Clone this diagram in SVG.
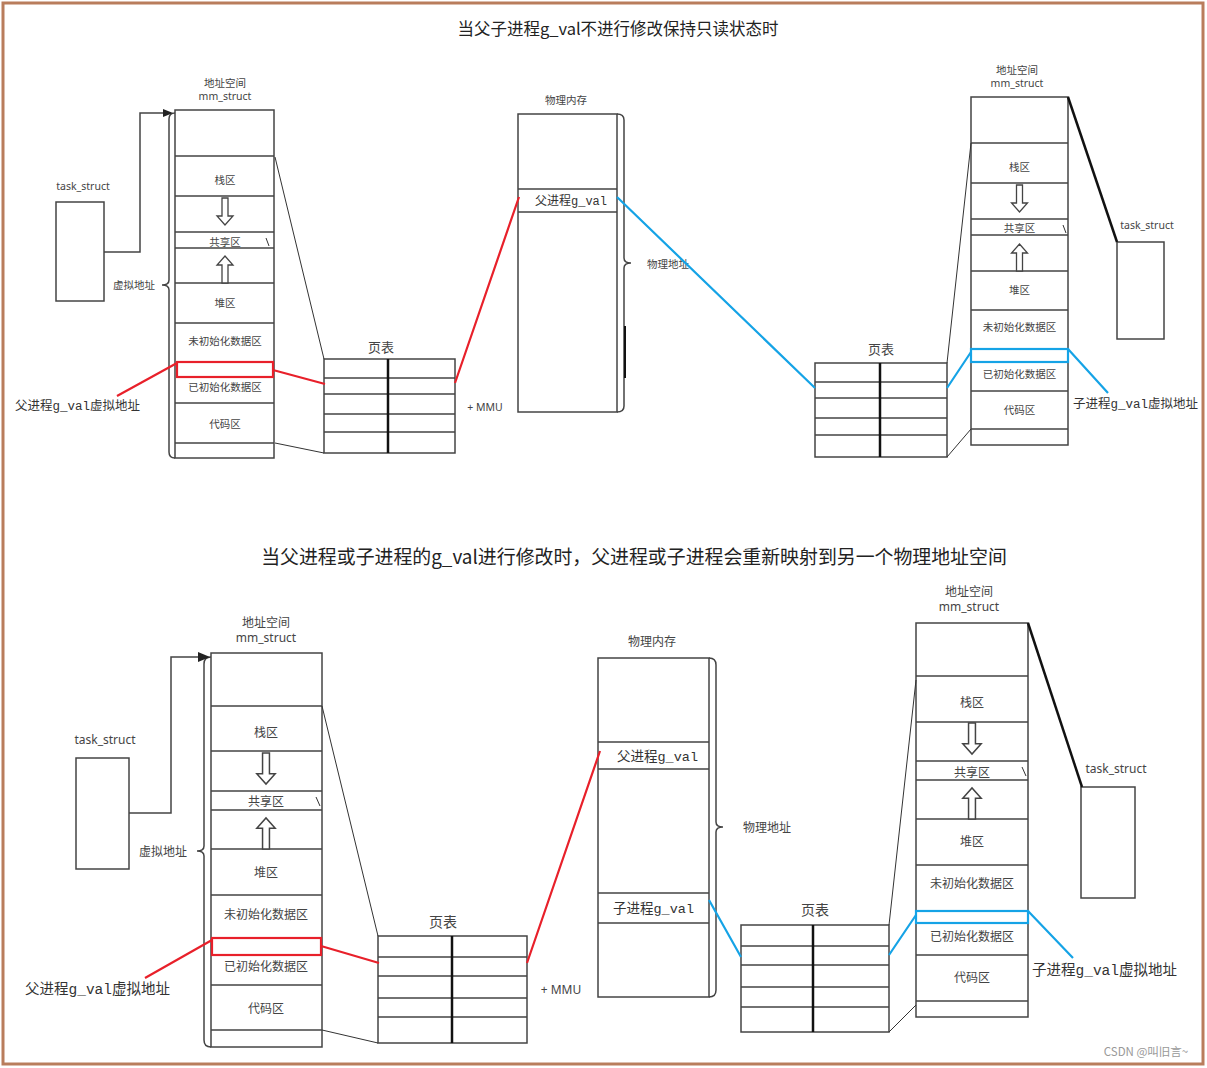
<svg xmlns="http://www.w3.org/2000/svg" width="1207" height="1068" viewBox="0 0 1207 1068">
<style>
.bg{fill:#fff}
.frame{fill:none;stroke:#b97d5c;stroke-width:3}
.box{fill:#fff;stroke:#444;stroke-width:1.5}
.row{stroke:#444;stroke-width:1.5;fill:none}
.mid{stroke:#111;stroke-width:2.5}
.thin{stroke:#333;stroke-width:1;fill:none}
.thick{stroke:#111;stroke-width:2.5;fill:none}
.red{stroke:#e8202a;stroke-width:2.2;fill:none}
.blue{stroke:#15a3e6;stroke-width:2.2;fill:none}
.brace{stroke:#444;stroke-width:1.5;fill:none}
.arr{fill:#fff;stroke:#444;stroke-width:1.3}
.t{font-family:"Noto Sans CJK SC","Noto Sans",sans-serif;fill:#444;text-anchor:middle}
.ts{font-family:"Noto Sans","Noto Sans CJK SC",sans-serif;fill:#444;text-anchor:middle}
.title{font-family:"Noto Sans CJK SC","Noto Sans",sans-serif;fill:#222;text-anchor:middle}
.m{font-family:"Liberation Mono","Noto Sans CJK SC",monospace;fill:#333}
</style>
<defs>
<path id="dn" d="M-3,0 H3 V18 H8 L0,27 L-8,18 H-3 Z"/>
<path id="up" d="M-3,0 H3 V-18 H8 L0,-27 L-8,-18 H-3 Z"/>
</defs>
<rect class="bg" x="0" y="0" width="1207" height="1068"/>
<rect class="frame" x="3" y="3" width="1200" height="1061"/>

<text class="title" x="618" y="35" font-size="16.5">当父子进程g_val不进行修改保持只读状态时</text>
<text class="title" x="634" y="564" font-size="18.9">当父进程或子进程的g_val进行修改时，父进程或子进程会重新映射到另一个物理地址空间</text>

<!-- ===== Diagram 1 ===== -->
<g id="task1">
<text class="ts" x="83" y="190" font-size="10.5">task_struct</text>
<rect class="box" x="56" y="202" width="48" height="99"/>
</g>
<g id="vm1">
<text class="t" x="225" y="87" font-size="10.5">地址空间</text>
<text class="ts" x="225" y="100" font-size="10.5">mm_struct</text>
<rect class="box" x="175" y="110" width="99" height="348"/>
<path class="row" d="M175,156 H274 M175,196 H274 M175,232 H274 M175,248 H274 M175,283 H274 M175,323 H274 M175,403 H274 M175,443 H274"/>
<path class="thin" d="M266,238 L269,246"/>
<use href="#dn" class="arr" x="225" y="198"/>
<use href="#up" class="arr" x="225" y="283"/>
<text class="t" x="225" y="184" font-size="10.5">栈区</text>
<text class="t" x="225" y="246" font-size="10.5">共享区</text>
<text class="t" x="225" y="307" font-size="10.5">堆区</text>
<text class="t" x="225" y="345" font-size="10.5">未初始化数据区</text>
<text class="t" x="225" y="391" font-size="10.5">已初始化数据区</text>
<text class="t" x="225" y="428" font-size="10.5">代码区</text>
<rect x="177" y="362" width="96" height="15" fill="none" stroke="#e8202a" stroke-width="2.2"/>
<path class="brace" d="M175,113 Q169,113 169,119 L169,280 Q169,285 162,285 Q169,285 169,290 L169,452 Q169,458 175,458"/>
<text class="t" x="134" y="289" font-size="10.5">虚拟地址</text>
</g>
<g id="pt1">
<text class="t" x="381" y="352" font-size="13">页表</text>
<rect class="box" x="324" y="359" width="131" height="94"/>
<path class="row" d="M324,378 H455 M324,394 H455 M324,414 H455 M324,432 H455"/>
<path class="mid" d="M388,359 V453"/>
<text class="ts" x="485" y="411" font-size="10.5">+ MMU</text>
</g>
<g id="pm1">
<text class="t" x="566" y="104" font-size="10.5">物理内存</text>
<rect class="box" x="518" y="114" width="99" height="298"/>
<path class="row" d="M518,189 H617 M518,212 H617"/>
<text class="m" x="535" y="205" font-size="12">父进程g_val</text>
<path class="brace" d="M617,114 Q624,114 624,120 L624,258 Q624,263 631,263 Q624,263 624,268 L624,406 Q624,412 617,412"/>
<path d="M625,326 V378" stroke="#111" stroke-width="2"/>
<text class="t" x="668" y="268" font-size="10.5">物理地址</text>
</g>
<g id="pt2">
<text class="t" x="881" y="354" font-size="13">页表</text>
<rect class="box" x="815" y="363" width="132" height="94"/>
<path class="row" d="M815,382 H947 M815,398 H947 M815,418 H947 M815,435 H947"/>
<path class="mid" d="M880,363 V457"/>
</g>
<g id="vm2">
<text class="t" x="1017" y="74" font-size="10.5">地址空间</text>
<text class="ts" x="1017" y="87" font-size="10.5">mm_struct</text>
<rect class="box" x="971" y="97" width="97" height="348"/>
<path class="row" d="M971,143 H1068 M971,183 H1068 M971,219 H1068 M971,235 H1068 M971,271 H1068 M971,310 H1068 M971,391 H1068 M971,429 H1068"/>
<path class="thin" d="M1063,225 L1066,233"/>
<use href="#dn" class="arr" x="1019.5" y="185"/>
<use href="#up" class="arr" x="1019.5" y="271"/>
<text class="t" x="1019.5" y="171" font-size="10.5">栈区</text>
<text class="t" x="1019.5" y="232" font-size="10.5">共享区</text>
<text class="t" x="1019.5" y="294" font-size="10.5">堆区</text>
<text class="t" x="1019.5" y="331" font-size="10.5">未初始化数据区</text>
<text class="t" x="1019.5" y="378" font-size="10.5">已初始化数据区</text>
<text class="t" x="1019.5" y="414" font-size="10.5">代码区</text>
<rect x="971" y="349" width="97" height="13" fill="none" stroke="#15a3e6" stroke-width="2.2"/>
</g>
<g id="task2">
<text class="ts" x="1147" y="229" font-size="10.5">task_struct</text>
<rect class="box" x="1117" y="242" width="47" height="97"/>
</g>
<text class="m" x="15" y="410" font-size="12.5">父进程g_val虚拟地址</text>
<text class="m" x="1073" y="408" font-size="12.5">子进程g_val虚拟地址</text>

<!-- ===== Diagram 2 ===== -->
<g id="task3">
<text class="ts" x="105" y="744" font-size="12">task_struct</text>
<rect class="box" x="76" y="758" width="53" height="111"/>
</g>
<g id="vm3">
<text class="t" x="266" y="627" font-size="12">地址空间</text>
<text class="ts" x="266" y="642" font-size="12">mm_struct</text>
<rect class="box" x="211" y="653" width="111" height="394"/>
<path class="row" d="M211,706 H322 M211,751 H322 M211,791 H322 M211,810 H322 M211,849 H322 M211,895 H322 M211,985 H322 M211,1030 H322"/>
<path class="thin" d="M316,797 L320,806"/>
<use href="#dn" class="arr" x="266" y="753" transform="translate(266 753) scale(1.15) translate(-266 -753)"/>
<use href="#up" class="arr" x="266" y="849" transform="translate(266 849) scale(1.15) translate(-266 -849)"/>
<text class="t" x="266" y="737" font-size="12">栈区</text>
<text class="t" x="266" y="806" font-size="12">共享区</text>
<text class="t" x="266" y="877" font-size="12">堆区</text>
<text class="t" x="266" y="919" font-size="12">未初始化数据区</text>
<text class="t" x="266" y="971" font-size="12">已初始化数据区</text>
<text class="t" x="266" y="1013" font-size="12">代码区</text>
<rect x="212" y="938" width="109" height="17" fill="none" stroke="#e8202a" stroke-width="2.2"/>
<path class="brace" d="M211,657 Q204,657 204,664 L204,846 Q204,851 197,851 Q204,851 204,856 L204,1040 Q204,1047 211,1047"/>
<text class="t" x="163" y="856" font-size="12">虚拟地址</text>
</g>
<g id="pt3">
<text class="t" x="443" y="927" font-size="14">页表</text>
<rect class="box" x="378" y="936" width="149" height="107"/>
<path class="row" d="M378,957 H527 M378,976 H527 M378,998 H527 M378,1017 H527"/>
<path class="mid" d="M452,936 V1043"/>
<text class="ts" x="561" y="994" font-size="12">+ MMU</text>
</g>
<g id="pm2">
<text class="t" x="652" y="646" font-size="12">物理内存</text>
<rect class="box" x="598" y="658" width="111" height="339"/>
<path class="row" d="M598,742 H709 M598,769 H709 M598,893 H709 M598,923 H709"/>
<text class="m" x="617" y="761" font-size="13.5">父进程g_val</text>
<text class="m" x="613" y="913" font-size="13.5">子进程g_val</text>
<path class="brace" d="M709,658 Q716,658 716,665 L716,822 Q716,827 723,827 Q716,827 716,832 L716,990 Q716,997 709,997"/>
<text class="t" x="767" y="832" font-size="12">物理地址</text>
</g>
<g id="pt4">
<text class="t" x="815" y="915" font-size="14">页表</text>
<rect class="box" x="741" y="925" width="148" height="107"/>
<path class="row" d="M741,946 H889 M741,965 H889 M741,987 H889 M741,1007 H889"/>
<path class="mid" d="M813,925 V1032"/>
</g>
<g id="vm4">
<text class="t" x="969" y="596" font-size="12">地址空间</text>
<text class="ts" x="969" y="611" font-size="12">mm_struct</text>
<rect class="box" x="916" y="623" width="112" height="394"/>
<path class="row" d="M916,676 H1028 M916,722 H1028 M916,761 H1028 M916,780 H1028 M916,819 H1028 M916,865 H1028 M916,955 H1028 M916,1001 H1028"/>
<path class="thin" d="M1022,767 L1026,776"/>
<use href="#dn" class="arr" x="972" y="723" transform="translate(972 723) scale(1.15) translate(-972 -723)"/>
<use href="#up" class="arr" x="972" y="819" transform="translate(972 819) scale(1.15) translate(-972 -819)"/>
<text class="t" x="972" y="707" font-size="12">栈区</text>
<text class="t" x="972" y="777" font-size="12">共享区</text>
<text class="t" x="972" y="846" font-size="12">堆区</text>
<text class="t" x="972" y="888" font-size="12">未初始化数据区</text>
<text class="t" x="972" y="941" font-size="12">已初始化数据区</text>
<text class="t" x="972" y="982" font-size="12">代码区</text>
<rect x="916" y="911" width="112" height="12" fill="none" stroke="#15a3e6" stroke-width="2.2"/>
</g>
<g id="task4">
<text class="ts" x="1116" y="773" font-size="12">task_struct</text>
<rect class="box" x="1081" y="787" width="54" height="111"/>
</g>
<text class="m" x="25" y="994" font-size="14.5">父进程g_val虚拟地址</text>
<text class="m" x="1032" y="975" font-size="14.5">子进程g_val虚拟地址</text>

<!-- ===== Connectors ===== -->
<g id="connectors">
<path class="row" d="M104,252 H140 V113 H166"/>
<path d="M173,113 L163,109 L163,117 Z" fill="#222"/>
<path class="thin" d="M275,157 L324,359 M275,443 L324,453"/>
<path class="red" d="M177,363 L117,396 M273,370 L325,384 M455,383 L519,197"/>
<path class="blue" d="M617,197 L815,388 M947,388 L971,352 M1068,349 L1108,393"/>
<path class="thin" d="M947,363 L971,143 M947,457 L971,429"/>
<path class="thick" d="M1068,97 L1117,242"/>

<path class="row" d="M129,813 H171 V657 H200"/>
<path d="M210,657 L198,652 L198,662 Z" fill="#222"/>
<path class="thin" d="M322,706 L378,936 M322,1030 L378,1043"/>
<path class="red" d="M212,940 L145,978 M321,946 L379,963 M527,963 L600,751"/>
<path class="blue" d="M709,900 L741,957 M889,955 L916,915 M1028,911 L1073,958"/>
<path class="thin" d="M889,925 L916,680 M889,1032 L916,1005"/>
<path class="thick" d="M1028,623 L1082,787"/>
</g>
<text x="1146" y="1056" font-family="Noto Sans CJK SC, Noto Sans, sans-serif" font-size="11.5" fill="#999" text-anchor="middle">CSDN @叫旧言~</text>
</svg>
